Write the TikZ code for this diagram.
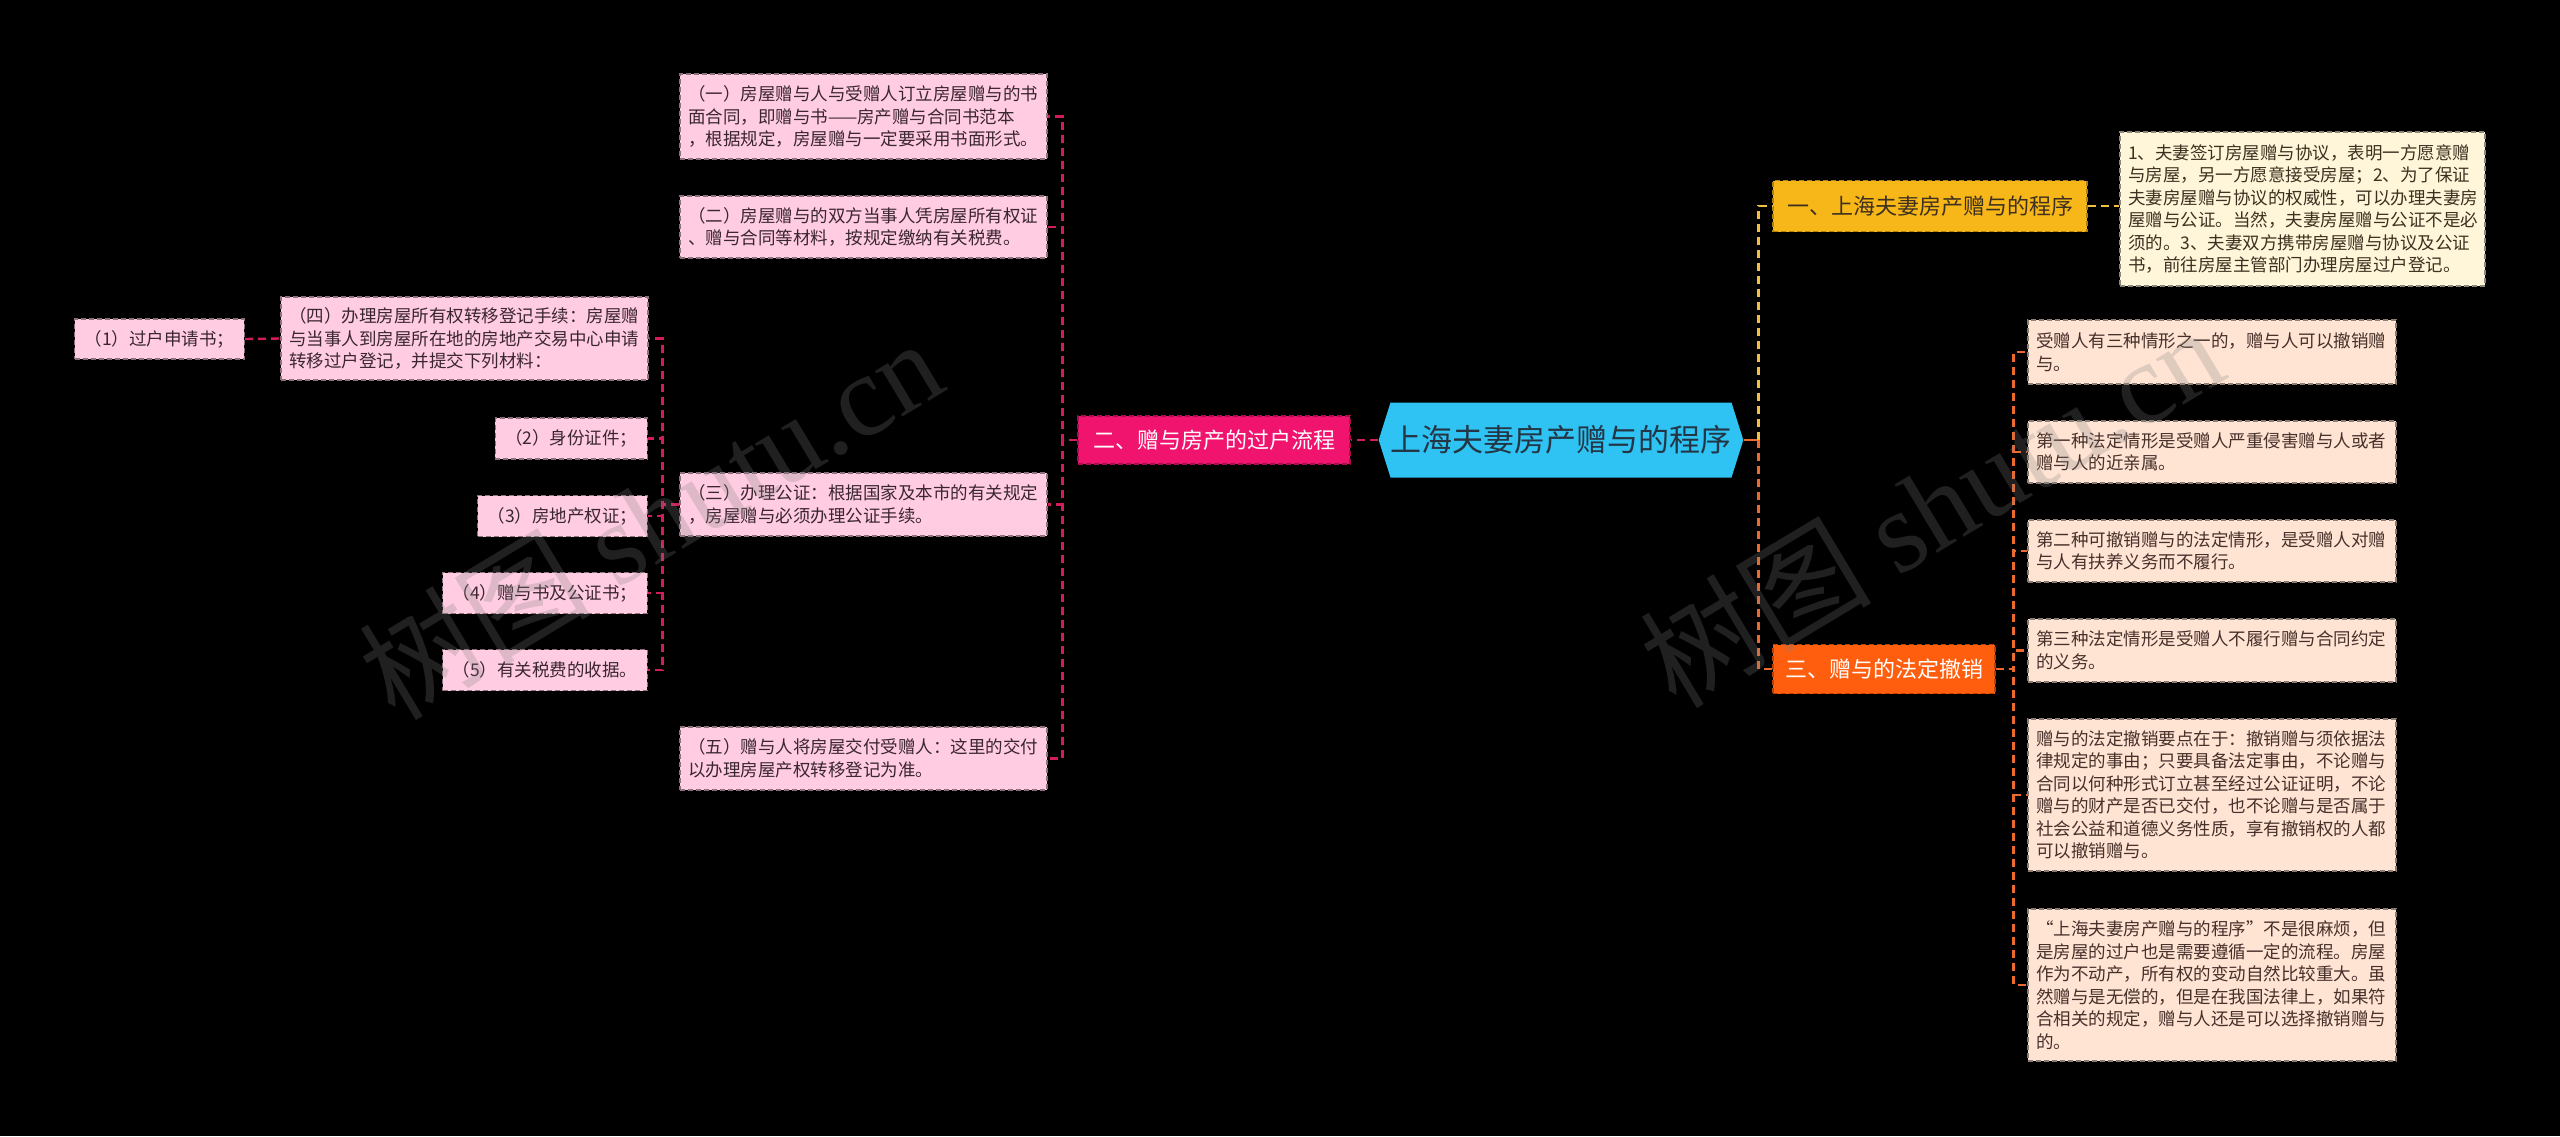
\documentclass[tikz,border=0pt]{standalone}
\usepackage{fontspec}
\setmainfont{Noto Sans CJK SC}
\newfontfamily\wmlatin{Liberation Serif}
\usetikzlibrary{shapes.symbols}
\definecolor{rootcyan}{HTML}{2EC3F2}
\definecolor{rootink}{HTML}{243646}
\definecolor{rosered}{HTML}{F0146E}
\definecolor{rosepale}{HTML}{FFCCE1}
\definecolor{roseline}{HTML}{D31C5C}
\definecolor{roseink}{HTML}{3A2630}
\definecolor{amber}{HTML}{F8B718}
\definecolor{amberpale}{HTML}{FFF6DA}
\definecolor{amberline}{HTML}{F2C040}
\definecolor{amberink}{HTML}{3D3020}
\definecolor{tangerine}{HTML}{FF5E0E}
\definecolor{peach}{HTML}{FFE3D3}
\definecolor{tangline}{HTML}{EC6A2E}
\definecolor{peachink}{HTML}{45302A}

\begin{document}
\begin{tikzpicture}[x=1pt, y=-1pt,
  root/.style={signal, signal to=west and east, signal pointer angle=145,
    fill=rootcyan, text=rootink, inner sep=0pt, minimum width=354pt,
    minimum height=75pt, font=\fontsize{31}{37}\selectfont},
  branch/.style={draw, dash pattern=on 5pt off 3pt, line width=1.2pt,
    inner sep=0pt, font=\fontsize{22}{26}\selectfont},
  leaf/.style={draw, dash pattern=on 5pt off 3pt, line width=1.2pt,
    inner xsep=8pt, inner ysep=0pt, align=left,
    font=\fontsize{17.5}{22.5}\selectfont},
  pinkleaf/.style={leaf, fill=rosepale, draw=rosepale!55!black, text=roseink},
  peachleaf/.style={leaf, fill=peach, draw=peach!55!black, text=peachink,
    text width=352pt},
  link/.style={dash pattern=on 8pt off 5pt, line width=2.4pt},
  watermark/.style={text=gray, text opacity=0.25, font=\fontsize{116}{120}\selectfont},
]

% ===== canvas =====
\fill[black] (0,0) rectangle (2560,1136);
\useasboundingbox (0,0) rectangle (2560,1136);

% ===== centre and main branches =====
\node[root] (house) at (1561,440) {上海夫妻房产赠与的程序};
\node[branch, fill=rosered, draw=rosered!70!black, text=white,
  minimum width=272pt, minimum height=48pt] (transfer) at (1214,440) {二、赠与房产的过户流程};
\node[branch, fill=amber, draw=amber!70!black, text=amberink,
  minimum width=314pt, minimum height=51pt] (steps) at (1930,206) {一、上海夫妻房产赠与的程序};
\node[branch, fill=tangerine, draw=tangerine!70!black, text=white,
  minimum width=222pt, minimum height=49pt] (revoke) at (1884,669) {三、赠与的法定撤销};

% ===== left: transfer steps =====
\node[pinkleaf, text width=351pt, minimum height=85pt] (doc1) at (863.5,116.5)
  {（一）房屋赠与人与受赠人订立房屋赠与的书\\面合同，即赠与书——房产赠与合同书范本\\，根据规定，房屋赠与一定要采用书面形式。};
\node[pinkleaf, text width=351pt, minimum height=62pt] (doc2) at (863.5,227)
  {（二）房屋赠与的双方当事人凭房屋所有权证\\、赠与合同等材料，按规定缴纳有关税费。};
\node[pinkleaf, text width=351pt, minimum height=63pt] (doc3) at (863.5,504.5)
  {（三）办理公证：根据国家及本市的有关规定\\，房屋赠与必须办理公证手续。};
\node[pinkleaf, text width=351pt, minimum height=63pt] (doc5) at (863.5,758.5)
  {（五）赠与人将房屋交付受赠人：这里的交付\\以办理房屋产权转移登记为准。};
\node[pinkleaf, text width=351pt, minimum height=83pt] (doc4) at (464.5,338.5)
  {（四）办理房屋所有权转移登记手续：房屋赠\\与当事人到房屋所在地的房地产交易中心申请\\转移过户登记，并提交下列材料：};

% materials
\node[pinkleaf, inner xsep=10pt, minimum height=40pt, anchor=east] (mat1) at (245,339) {（1）过户申请书；};
\node[pinkleaf, inner xsep=10pt, minimum height=41pt, anchor=east] (mat2) at (648,438.5) {（2）身份证件；};
\node[pinkleaf, inner xsep=10pt, minimum height=41pt, anchor=east] (mat3) at (648,516) {（3）房地产权证；};
\node[pinkleaf, inner xsep=10pt, minimum height=41pt, anchor=east] (mat4) at (648,593) {（4）赠与书及公证书；};
\node[pinkleaf, inner xsep=10pt, minimum height=41pt, anchor=east] (mat5) at (648,670) {（5）有关税费的收据。};

% ===== right: procedure and revocation =====
\node[leaf, fill=amberpale, draw=amberpale!55!black, text=amberink,
  text width=349pt, minimum height=154pt] (stepnote) at (2302.5,209)
  {1、夫妻签订房屋赠与协议，表明一方愿意赠\\与房屋，另一方愿意接受房屋；2、为了保证\\夫妻房屋赠与协议的权威性，可以办理夫妻房\\屋赠与公证。当然，夫妻房屋赠与公证不是必\\须的。3、夫妻双方携带房屋赠与协议及公证\\书，前往房屋主管部门办理房屋过户登记。};

\node[peachleaf, minimum height=64pt] (rev1) at (2212,352)
  {受赠人有三种情形之一的，赠与人可以撤销赠\\与。};
\node[peachleaf, minimum height=62pt] (rev2) at (2212,452)
  {第一种法定情形是受赠人严重侵害赠与人或者\\赠与人的近亲属。};
\node[peachleaf, minimum height=62pt] (rev3) at (2212,551)
  {第二种可撤销赠与的法定情形，是受赠人对赠\\与人有扶养义务而不履行。};
\node[peachleaf, minimum height=63pt] (rev4) at (2212,650.5)
  {第三种法定情形是受赠人不履行赠与合同约定\\的义务。};
\node[peachleaf, minimum height=152pt] (rev5) at (2212,795)
  {赠与的法定撤销要点在于：撤销赠与须依据法\\律规定的事由；只要具备法定事由，不论赠与\\合同以何种形式订立甚至经过公证证明，不论\\赠与的财产是否已交付，也不论赠与是否属于\\社会公益和道德义务性质，享有撤销权的人都\\可以撤销赠与。};
\node[peachleaf, minimum height=152pt] (rev6) at (2212,985)
  {“上海夫妻房产赠与的程序”不是很麻烦，但\\是房屋的过户也是需要遵循一定的流程。房屋\\作为不动产，所有权的变动自然比较重大。虽\\然赠与是无偿的，但是在我国法律上，如果符\\合相关的规定，赠与人还是可以选择撤销赠与\\的。};

% ===== connectors =====
\draw[link, roseline] (house.west) -- (transfer.east);
\draw[line width=2.4pt, tangline] (house.east) -- ++(15,0) coordinate (hub);
\draw[link, amberline] (hub) |- (steps.west);
\draw[link, tangline] (hub) |- (revoke.west);
\draw[link, amberline] (steps.east) -- (steps.east -| stepnote.west);

\foreach \n in {doc1,doc2,doc3,doc5}
  \draw[link, roseline] (transfer.west) -- ++(-15,0) |- (\n.east);
\foreach \n in {doc4,mat2,mat3,mat4,mat5}
  \draw[link, roseline] (doc3.west) -- ++(-17,0) |- (\n.east);
\draw[link, roseline] (mat1.east) -- (doc4.west);

\foreach \n in {rev1,rev2,rev3,rev4,rev5,rev6}
  \draw[link, tangline] (revoke.east) -- ++(18,0) |- (\n.west);

% watermarks
\node[watermark, rotate=31] (mark1) at (650,518) {树图 {\wmlatin shutu.cn}};
\node[watermark, rotate=31] (mark2) at (1931,506) {树图 {\wmlatin shutu.cn}};

\end{tikzpicture}
\end{document}
